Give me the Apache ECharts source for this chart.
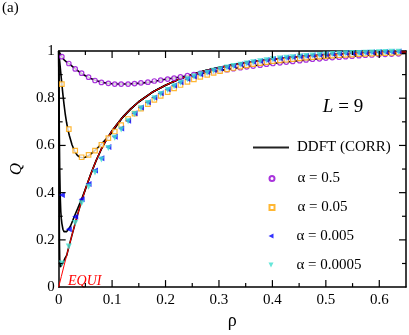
<!DOCTYPE html>
<html>
<head>
<meta charset="utf-8">
<script src="https://cdn.jsdelivr.net/npm/echarts@6/dist/echarts.min.js"></script>
<style>
html,body{margin:0;padding:0;background:#fff}
#main{width:409px;height:335px}
</style>
</head>
<body>
<div id="main"></div>
<script>
// density points (markers)
var rho = [0.006, 0.019, 0.031, 0.043, 0.056, 0.068, 0.080, 0.093, 0.105, 0.117,
           0.130, 0.142, 0.154, 0.167, 0.179, 0.191, 0.204, 0.216, 0.228, 0.241,
           0.253, 0.265, 0.278, 0.290, 0.302, 0.315, 0.327, 0.340, 0.352, 0.364,
           0.377, 0.389, 0.401, 0.414, 0.426, 0.438, 0.451, 0.463, 0.475, 0.488,
           0.500, 0.512, 0.525, 0.537, 0.549, 0.562, 0.574, 0.586, 0.599, 0.611,
           0.623, 0.636];
var qAlpha05 = [0.976, 0.947, 0.924, 0.906, 0.889, 0.875, 0.867, 0.863, 0.860, 0.860,
                0.860, 0.862, 0.865, 0.868, 0.873, 0.877, 0.881, 0.885, 0.890, 0.896,
                0.900, 0.905, 0.909, 0.913, 0.917, 0.921, 0.925, 0.929, 0.933, 0.936,
                0.940, 0.944, 0.947, 0.950, 0.953, 0.956, 0.959, 0.962, 0.965, 0.967,
                0.970, 0.972, 0.974, 0.976, 0.978, 0.980, 0.982, 0.983, 0.985, 0.986,
                0.987, 0.988];
var qAlpha005 = [0.860, 0.669, 0.578, 0.550, 0.560, 0.578, 0.603, 0.631, 0.659, 0.686,
                 0.712, 0.735, 0.756, 0.775, 0.793, 0.810, 0.826, 0.842, 0.856, 0.869,
                 0.880, 0.890, 0.899, 0.907, 0.915, 0.922, 0.928, 0.934, 0.939, 0.944,
                 0.949, 0.953, 0.957, 0.960, 0.963, 0.966, 0.969, 0.972, 0.974, 0.976,
                 0.978, 0.980, 0.982, 0.984, 0.985, 0.987, 0.988, 0.989, 0.990, 0.991,
                 0.992, 0.993];
var qAlpha0005 = [0.390, 0.245, 0.298, 0.372, 0.437, 0.494, 0.546, 0.593, 0.637, 0.672,
                  0.705, 0.736, 0.761, 0.783, 0.803, 0.821, 0.838, 0.854, 0.868, 0.881,
                  0.892, 0.902, 0.911, 0.919, 0.926, 0.932, 0.938, 0.944, 0.949, 0.954,
                  0.958, 0.962, 0.966, 0.969, 0.972, 0.975, 0.978, 0.980, 0.982, 0.984,
                  0.986, 0.988, 0.989, 0.991, 0.992, 0.993, 0.994, 0.995, 0.996, 0.997,
                  0.997, 0.998];
var qAlpha00005 = [0.100, 0.172, 0.272, 0.355, 0.425, 0.485, 0.540, 0.589, 0.633, 0.668,
                   0.702, 0.733, 0.758, 0.780, 0.800, 0.818, 0.835, 0.851, 0.866, 0.880,
                   0.892, 0.901, 0.908, 0.916, 0.923, 0.930, 0.936, 0.942, 0.947, 0.952,
                   0.957, 0.961, 0.965, 0.968, 0.971, 0.974, 0.977, 0.979, 0.981, 0.983,
                   0.985, 0.987, 0.988, 0.990, 0.991, 0.992, 0.993, 0.994, 0.995, 0.996,
                   0.997, 0.997];

// EQUI curve
var equiRho = [0, 0.005, 0.01, 0.015, 0.02, 0.025, 0.03, 0.035, 0.04, 0.045, 0.05, 0.06, 0.07, 0.08, 0.09,
               0.1, 0.11, 0.12, 0.135, 0.15, 0.175, 0.2, 0.225, 0.25, 0.275, 0.3, 0.35, 0.4, 0.45,
               0.5, 0.55, 0.6, 0.65];
var equiQ = [0, 0.045, 0.09, 0.134, 0.178, 0.221, 0.262, 0.303, 0.342, 0.379, 0.414, 0.478, 0.535, 0.585, 0.627,
             0.662, 0.692, 0.72, 0.755, 0.785, 0.825, 0.855, 0.880, 0.9, 0.917, 0.93, 0.951, 0.965, 0.976,
             0.983, 0.989, 0.993, 0.996];

// DDFT (CORR) curves, early part (they join EQUI afterwards)
var ddftA_rho = [0, 0.003, 0.006, 0.01, 0.015, 0.02, 0.03, 0.04, 0.05, 0.06, 0.07, 0.08, 0.09, 0.1, 0.11, 0.12, 0.13,
                 0.14, 0.155, 0.17, 0.185, 0.2, 0.225, 0.25, 0.275, 0.3, 0.35, 0.4, 0.45, 0.5, 0.55, 0.6, 0.65];
var ddftA_q = [1.0, 0.988, 0.976, 0.963, 0.953, 0.945, 0.926, 0.909, 0.895, 0.884, 0.875, 0.868, 0.864, 0.861, 0.860, 0.860, 0.860,
               0.862, 0.864, 0.868, 0.874, 0.880, 0.889, 0.898, 0.908, 0.917, 0.933, 0.947, 0.959, 0.970, 0.978, 0.985, 0.990];
var ddftB_rho = [0, 0.002, 0.004, 0.006, 0.008, 0.01, 0.0125, 0.015, 0.0175, 0.02, 0.025, 0.03, 0.035, 0.04, 0.045, 0.05,
                 0.055, 0.06, 0.07, 0.08, 0.09, 0.1, 0.11];
var ddftB_q = [1.0, 0.955, 0.907, 0.86, 0.815, 0.775, 0.73, 0.695, 0.665, 0.642, 0.603, 0.575, 0.558, 0.550, 0.548, 0.550,
               0.556, 0.563, 0.583, 0.606, 0.630, 0.655, 0.688];
var ddftC_rho = [0, 0.0005, 0.001, 0.0015, 0.002, 0.003, 0.004, 0.005, 0.006, 0.008, 0.01, 0.012, 0.015, 0.018, 0.022,
                 0.026, 0.03, 0.035, 0.04, 0.045, 0.05];
var ddftC_q = [1.0, 0.85, 0.72, 0.6, 0.50, 0.38, 0.32, 0.29, 0.27, 0.245, 0.235, 0.232, 0.235, 0.242, 0.258,
               0.280, 0.303, 0.330, 0.357, 0.385, 0.414];
var ddftD_rho = [0, 0.0005, 0.001, 0.0015, 0.002, 0.0025, 0.003, 0.004, 0.005, 0.006, 0.008, 0.01, 0.0125];
var ddftD_q = [1.0, 0.62, 0.35, 0.19, 0.12, 0.095, 0.085, 0.08, 0.083, 0.09, 0.102, 0.112, 0.125];

// tick labels / tick positions
var xTicks = [0, 0.1, 0.2, 0.3, 0.4, 0.5, 0.6];
var yTicks = [0, 0.2, 0.4, 0.6, 0.8, 1];
var xMinorTicks = [0.05, 0.15, 0.25, 0.35, 0.45, 0.55];
var yMinorTicks = [0.1, 0.3, 0.5, 0.7, 0.9];

var serif = '"Liberation Serif", "DejaVu Serif", serif';

function pairs(xs, ys) {
    return xs.map(function (x, i) { return [x, ys[i]]; });
}
function withEqui(xs, ys) {
    var last = xs[xs.length - 1];
    return pairs(xs, ys).concat(pairs(equiRho, equiQ).filter(function (p) { return p[0] > last; }));
}

// tick table for the custom series: [position, 0.5, length px, 1 = x tick / 0 = y tick]
var tickData = [];
xTicks.forEach(function (v) { if (v > 0) tickData.push([v, 0.5, 7, 1]); });
xMinorTicks.forEach(function (v) { tickData.push([v, 0.5, 4, 1]); });
yTicks.forEach(function (v) { if (v > 0 && v < 1) tickData.push([0.3, v, 7, 0]); });
yMinorTicks.forEach(function (v) { tickData.push([0.3, v, 4, 0]); });

function renderTick(params, api) {
    var len = api.value(2);
    var st = {stroke: '#000', lineWidth: 1.2};
    if (api.value(3) === 1) {
        var b = api.coord([api.value(0), 0]);
        var t = api.coord([api.value(0), 1]);
        return {type: 'group', children: [
            {type: 'line', shape: {x1: b[0], y1: b[1], x2: b[0], y2: b[1] - len}, style: st},
            {type: 'line', shape: {x1: t[0], y1: t[1], x2: t[0], y2: t[1] + len}, style: st}
        ]};
    }
    var l = api.coord([0, api.value(1)]);
    var r = api.coord([0.65, api.value(1)]);
    return {type: 'group', children: [
        {type: 'line', shape: {x1: l[0], y1: l[1], x2: l[0] + len, y2: l[1]}, style: st},
        {type: 'line', shape: {x1: r[0], y1: r[1], x2: r[0] - len, y2: r[1]}, style: st}
    ]};
}

var myChart = echarts.init(document.getElementById('main'));

function xAx(pos, label) {
    return {
        type: 'value', min: 0, max: 0.65, interval: 0.1, position: pos,
        axisLine: {show: true, onZero: false, lineStyle: {color: '#000', width: 1.5}},
        axisTick: {show: false},
        axisLabel: {
            show: label, color: '#000', fontFamily: serif, fontSize: 15, margin: 5,
            formatter: function (v) { return xTicks.indexOf(Math.round(v * 100) / 100) >= 0 ? String(Math.round(v * 10) / 10) : ''; }
        },
        splitLine: {show: false}
    };
}
function yAx(pos, label) {
    return {
        type: 'value', min: 0, max: 1, interval: 0.2, position: pos,
        axisLine: {show: true, onZero: false, lineStyle: {color: '#000', width: 1.5}},
        axisTick: {show: false},
        axisLabel: {
            show: label, color: '#000', fontFamily: serif, fontSize: 15, margin: 4,
            formatter: function (v) { return yTicks.indexOf(Math.round(v * 10) / 10) >= 0 ? String(Math.round(v * 10) / 10) : ''; }
        },
        splitLine: {show: false}
    };
}

var xMain = xAx('bottom', true);
xMain.name = 'ρ';
xMain.nameLocation = 'middle';
xMain.nameGap = 18;
xMain.nameTextStyle = {fontFamily: serif, fontSize: 18, color: '#000'};
var yMain = yAx('left', true);
yMain.name = 'Q';
yMain.nameLocation = 'middle';
yMain.nameGap = 32;
yMain.nameTextStyle = {fontFamily: serif, fontSize: 17, fontStyle: 'italic', color: '#000'};

function legendAt(name, top, w, h, pad, icon) {
    return {
        data: [{name: name, icon: icon}], left: 271 - w / 2, top: top, orient: 'vertical', padding: 0,
        itemWidth: w, itemHeight: h, selectedMode: false,
        textStyle: {fontFamily: serif, fontSize: 15, color: '#000', lineHeight: 16, padding: [0, 0, 0, pad]}
    };
}

function lineSeries(data) {
    return {
        name: 'DDFT (CORR)', type: 'line', data: data, symbol: 'none', showSymbol: false,
        lineStyle: {color: '#000', width: 1.6}, itemStyle: {color: '#222'}, z: 2, silent: true
    };
}

option = {
    animation: false,
    grid: {left: 50, top: 51, width: 358, height: 252, containLabel: false},
    xAxis: [xMain, xAx('top', false)],
    yAxis: [yMain, yAx('right', false)],
    legend: [
        legendAt('DDFT (CORR)', 139.5, 36, 2, 3, 'rect'),
        legendAt('α = 0.5', 170.5, 5, 5, 18, 'circle'),
        legendAt('α = 0.05', 199.5, 5, 5, 18, 'rect'),
        legendAt('α = 0.005', 228, 5, 5, 18, 'path://M10,0L10,10L0,5Z'),
        legendAt('α = 0.0005', 257, 5, 5, 18, 'path://M0,0L10,0L5,10Z')
    ],
    graphic: [
        {type: 'text', left: 2, top: 1, style: {text: '(a)', fontFamily: serif, fontSize: 15, fill: '#000'}},
        {type: 'text', x: 343, y: 107, style: {
            text: '{i|L} = 9', fontFamily: serif, fontSize: 19, fill: '#000', align: 'center', verticalAlign: 'middle',
            rich: {i: {fontFamily: serif, fontSize: 19, fontStyle: 'italic', fill: '#000'}}
        }},
        {type: 'text', left: 68, top: 274, style: {text: 'EQUI', fontFamily: serif, fontSize: 14, fontStyle: 'italic', fill: '#ff0000'}}
    ],
    series: [
        {
            name: 'ticks', type: 'custom', data: tickData, renderItem: renderTick,
            encode: {x: 0, y: 1}, clip: false, silent: true, z: 10
        },
        lineSeries(pairs(ddftA_rho, ddftA_q)),
        lineSeries(withEqui(ddftB_rho, ddftB_q)),
        lineSeries(withEqui(ddftC_rho, ddftC_q)),
        lineSeries(withEqui(ddftD_rho, ddftD_q)),
        {
            name: 'EQUI', type: 'line', data: pairs(equiRho, equiQ), symbol: 'none', showSymbol: false,
            lineStyle: {color: '#ff0000', width: 1}, z: 3, silent: true
        },
        {
            name: 'α = 0.5', type: 'scatter', data: pairs(rho, qAlpha05), symbol: 'circle', symbolSize: 4.5,
            itemStyle: {color: '#fff', borderColor: '#9400d3', borderWidth: 1.2}, z: 5
        },
        {
            name: 'α = 0.05', type: 'scatter', data: pairs(rho, qAlpha005), symbol: 'rect', symbolSize: 4.5,
            itemStyle: {color: '#fff', borderColor: '#ffa500', borderWidth: 1.2}, z: 5
        },
        {
            name: 'α = 0.005', type: 'scatter', data: pairs(rho, qAlpha0005), symbol: 'triangle', symbolSize: 6,
            symbolRotate: 90, itemStyle: {color: '#0000ff'}, z: 5
        },
        {
            name: 'α = 0.0005', type: 'scatter', data: pairs(rho, qAlpha00005), symbol: 'triangle', symbolSize: 6,
            symbolRotate: 180, itemStyle: {color: '#40e0d0'}, z: 5
        }
    ]
};

myChart.setOption(option);
</script>
</body>
</html>
